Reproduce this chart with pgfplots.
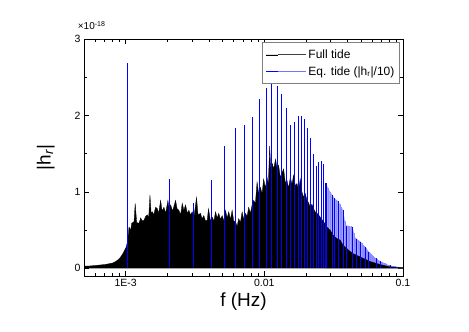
\documentclass[border=0pt]{standalone}
\usepackage{fontspec}
\setmainfont{Liberation Sans}
\usepackage{pgfplots}
\pgfplotsset{compat=1.18}
\usepackage{pgfplotstable}
\usetikzlibrary{calc}

% Full tide spectrum envelope: lx = log10(f / Hz), y in units of 1e-18
\pgfplotstableread{
lx y
-3.2950 0
-3.2950 0.03
-3.2662 0.03
-3.2374 0.035
-3.2086 0.04
-3.1799 0.045
-3.1511 0.05
-3.1223 0.06
-3.0935 0.07
-3.0719 0.09
-3.0504 0.12
-3.0360 0.15
-3.0216 0.19
-3.0072 0.24
-2.9964 0.28
-2.9856 0.36
-2.9763 0.54
-2.9640 0.50
-2.9568 0.59
-2.9403 0.61
-2.9317 0.85
-2.9209 0.60
-2.9043 0.59
-2.8921 0.66
-2.8813 0.62
-2.8683 0.63
-2.8561 0.68
-2.8439 0.70
-2.8345 0.66
-2.8252 0.96
-2.8165 0.72
-2.8079 0.74
-2.7986 0.70
-2.7842 0.80
-2.7719 0.78
-2.7626 0.72
-2.7482 0.89
-2.7374 0.75
-2.7245 0.80
-2.7122 0.72
-2.6957 0.89
-2.6871 0.78
-2.6763 0.83
-2.6619 0.75
-2.6403 0.89
-2.6295 0.78
-2.6165 0.76
-2.6043 0.70
-2.5921 0.85
-2.5806 0.76
-2.5683 0.83
-2.5561 0.72
-2.5446 0.76
-2.5324 0.70
-2.5201 0.74
-2.5086 0.66
-2.4892 0.93
-2.4784 0.70
-2.4604 0.72
-2.4496 0.65
-2.4367 0.69
-2.4245 0.62
-2.4122 0.63
-2.4029 0.78
-2.3885 0.62
-2.3763 0.67
-2.3633 0.62
-2.3525 0.74
-2.3403 0.66
-2.3288 0.72
-2.3165 0.64
-2.3043 0.69
-2.2914 0.62
-2.2806 0.76
-2.2683 0.66
-2.2568 0.74
-2.2446 0.64
-2.2324 0.76
-2.2209 0.62
-2.2086 0.61
-2.1964 0.55
-2.1849 0.65
-2.1727 0.60
-2.1604 0.74
-2.1489 0.64
-2.1367 0.72
-2.1245 0.68
-2.1129 0.80
-2.1007 0.72
-2.0885 0.83
-2.0770 0.89
-2.0647 0.85
-2.0525 1.13
-2.0410 0.98
-2.0288 1.06
-2.0165 0.98
-2.0050 1.17
-1.9928 1.05
-1.9806 1.19
-1.9712 1.10
-1.9619 1.60
-1.9532 1.30
-1.9424 1.37
-1.9331 1.30
-1.9187 1.43
-1.9086 1.30
-1.8971 1.35
-1.8849 1.19
-1.8727 1.25
-1.8612 1.30
-1.8489 1.12
-1.8367 1.15
-1.8252 1.05
-1.8129 1.19
-1.8007 1.10
-1.7892 1.22
-1.7770 1.08
-1.7647 1.11
-1.7532 1.02
-1.7410 1.17
-1.7288 1.00
-1.7173 0.93
-1.7050 0.98
-1.6928 0.89
-1.6813 0.86
-1.6691 0.80
-1.6568 0.84
-1.6453 0.78
-1.6331 0.74
-1.6209 0.72
-1.6094 0.70
-1.5971 0.67
-1.5849 0.64
-1.5734 0.61
-1.5612 0.58
-1.5489 0.54
-1.5374 0.52
-1.5252 0.50
-1.5129 0.46
-1.5014 0.43
-1.4892 0.41
-1.4770 0.39
-1.4655 0.38
-1.4532 0.37
-1.4410 0.33
-1.4295 0.30
-1.4173 0.28
-1.4050 0.26
-1.3935 0.24
-1.3813 0.22
-1.3576 0.19
-1.3331 0.17
-1.3094 0.15
-1.2856 0.13
-1.2612 0.11
-1.2374 0.09
-1.2014 0.07
-1.1655 0.05
-1.1295 0.035
-1.0935 0.02
-1.0576 0.015
-1.0000 0.01
-1.0000 0
}\fulltide

% Equilibrium tide harmonics (|h_r|/10), f in Hz, h in units of 1e-18
\pgfplotstableread{
f h
0.00103 2.69
0.00206 1.17
0.00309 0.86
0.00412 1.15
0.00515 1.60
0.00618 1.83
0.00721 1.87
0.00824 1.98
0.00927 2.22
0.01030 2.36
0.01133 2.60
0.01236 2.39
0.01339 2.28
0.01442 2.10
0.01545 1.88
0.01648 1.92
0.01751 1.99
0.01854 1.99
0.01957 1.95
0.02060 1.83
0.02163 1.70
0.02266 1.50
0.02369 1.34
0.02472 1.39
0.02575 1.40
0.02678 1.37
0.02781 1.11
0.02884 1.05
0.02987 1.00
0.03090 0.96
0.03193 0.92
0.03296 0.90
0.03399 0.88
0.03502 0.84
0.03605 0.80
0.03708 0.76
0.03811 0.62
0.03914 0.56
0.04017 0.56
0.04120 0.55
0.04223 0.55
0.04326 0.54
0.04429 0.46
0.04532 0.40
0.04635 0.39
0.04738 0.37
0.04841 0.36
0.04944 0.35
0.05047 0.33
0.05150 0.31
0.05253 0.29
0.05356 0.28
0.05459 0.26
0.05562 0.24
0.05665 0.22
0.05768 0.20
0.05871 0.19
0.05974 0.17
0.06077 0.16
0.06180 0.15
0.06283 0.14
0.06386 0.13
0.06489 0.12
0.06592 0.11
0.06695 0.10
0.06798 0.10
0.06901 0.09
0.07004 0.085
0.07107 0.08
0.07210 0.075
0.07313 0.07
0.07416 0.065
0.07519 0.06
0.07622 0.055
0.07725 0.05
0.07828 0.05
0.07931 0.045
0.08034 0.04
0.08137 0.04
0.08240 0.035
0.08343 0.033
0.08446 0.031
0.08549 0.03
0.08652 0.028
0.08755 0.026
0.08858 0.025
0.08961 0.024
0.09064 0.022
0.09167 0.02
0.09270 0.02
0.09373 0.018
0.09476 0.016
0.09579 0.015
0.09682 0.014
0.09785 0.013
0.09888 0.012
0.09991 0.011
}\eqtide

% Harmonics in the dense part that show as dark lines
\pgfplotstableread{
f h
0.02781 1.11
0.03090 0.96
0.03193 0.92
0.03399 0.88
0.03708 0.76
0.03914 0.56
0.04326 0.54
0.04635 0.39
0.04944 0.35
0.05356 0.28
0.05665 0.22
0.06386 0.13
0.06901 0.09
0.08137 0.04
0.09064 0.022
}\eqdark

\begin{document}
\begin{tikzpicture}
\begin{axis}[
  name=main,
  at={(0,0)}, anchor=south west,
  width=319pt, height=237pt, scale only axis,
  xmode=log, xmin=5e-4, xmax=0.1,
  ymin=-0.1, ymax=3,
  xtick={1e-3,1e-2,1e-1}, xticklabels={1E-3,0.01,0.1},
  minor xtick={6e-4,7e-4,8e-4,9e-4,2e-3,3e-3,4e-3,5e-3,6e-3,7e-3,8e-3,9e-3,2e-2,3e-2,4e-2,5e-2,6e-2,7e-2,8e-2,9e-2},
  ytick={0,1,2,3}, yticklabels={0,1,2,3},
  minor ytick={0.5,1.5,2.5},
  tick align=inside, major tick length=5pt, minor tick length=3pt,
  tick style={black, line width=0.7pt},
  axis line style={line width=0.9pt},
  ticklabel style={font=\fontsize{10.5}{12}\selectfont},
  xlabel={f (Hz)},
  xlabel style={font=\fontsize{19}{22}\selectfont, at={(axis description cs:0.5,-0.11)}, anchor=center},
  ylabel={|h\textsubscript{\textit{r}}|},
  ylabel style={font=\fontsize{19}{22}\selectfont, at={(axis description cs:-0.12,0.5)}, anchor=center},
  legend style={at={(axis description cs:0.99,0.986)}, anchor=north east,
    draw=gray, line width=0.9pt, fill=white,
    font=\fontsize{12}{14}\selectfont, inner xsep=3pt, inner ysep=5pt,
    row sep=2.5pt},
  legend cell align=left,
]
\addplot[fill=blue!35, draw=none, forget plot]
  table[x=f, y=h, skip coords between index={0}{26}] {\eqtide} \closedcycle;
\addplot[ycomb, blue!45, line width=0.5pt, forget plot,
  skip coords between index={0}{26}]
  table[x=f, y=h] {\eqtide};
\addplot[fill=black, draw=black, line width=0.3pt,
  legend image code/.code={\path (0pt,0pt) -- (12pt,0pt); \draw[black!75, line width=0.9pt] (12pt,0pt) -- (40pt,0pt);}]
  table[x expr={10^(\thisrow{lx})}, y=y] {\fulltide};
\addlegendentry{Full tide}
\addplot[ycomb, blue, line width=0.9pt,
  skip coords between index={27}{97},
  legend image code/.code={\path (0pt,0pt) -- (12pt,0pt); \draw[blue!55, line width=0.9pt] (12pt,0pt) -- (40pt,0pt);}]
  table[x=f, y=h] {\eqtide};
\addlegendentry{Eq. tide (|h\textsubscript{r}|/10)}
\addplot[ycomb, blue, line width=0.7pt, forget plot]
  table[x=f, y=h] {\eqdark};
\end{axis}
\node[anchor=base west, font=\fontsize{10}{12}\selectfont, inner sep=0pt]
  at ($(main.north west)+(-6.3pt,9pt)$) {×10\textsuperscript{-18}};
\path[use as bounding box] ($(main.south west)+(-84pt,-56pt)$) rectangle ($(main.north east)+(66pt,39pt)$);
\end{tikzpicture}
\end{document}
